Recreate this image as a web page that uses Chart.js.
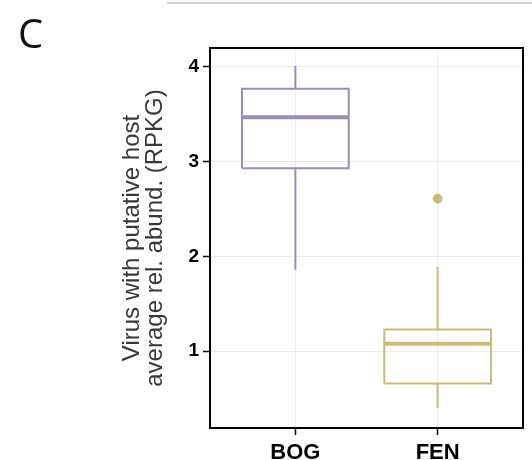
<!DOCTYPE html>
<html>
<head>
<meta charset="utf-8">
<script src="https://cdn.jsdelivr.net/npm/chart.js@4"></script>
<style>
  body { margin: 0; background: #fff; }
  #wrap { position: absolute; left: 0; top: 0; width: 532px; height: 460px; }
  #topRule { position: absolute; left: 167px; top: 2px; width: 365px; height: 0; border-top: 2px solid #d4d4d4; }
  #panelLabel { position: absolute; left: 18px; top: 13px; font-family: "Open Sans", sans-serif; font-size: 40px; line-height: 1; color: #111; }
</style>
</head>
<body>
<div id="wrap"><canvas id="boxChart"></canvas></div>
<div id="topRule"></div>
<div id="panelLabel">C</div>
<script>
// Box plot values (RPKG)
const groups = ["BOG", "FEN"];
const lowerWhisker = [1.86, 0.40];
const q1 = [2.93, 0.66];
const median = [3.47, 1.08];
const q3 = [3.77, 1.23];
const upperWhisker = [4.01, 1.89];
const outliers = [[], [2.61]];
const yTicks = [1, 2, 3, 4];

const colors = ["#9f8cb1", "#cdba76"];
const halfBox = 0.375;

function seg(points, color, width) {
  return {
    type: "line",
    data: points,
    borderColor: color,
    borderWidth: width,
    pointRadius: 0,
    fill: false,
    tension: 0,
  };
}

const datasets = [];
groups.forEach((g, i) => {
  const x = i + 1;
  const c = colors[i];
  // whiskers
  datasets.push(seg([{ x: x, y: q3[i] }, { x: x, y: upperWhisker[i] }], c, 2));
  datasets.push(seg([{ x: x, y: q1[i] }, { x: x, y: lowerWhisker[i] }], c, 2));
  // box
  datasets.push(seg([
    { x: x - halfBox, y: q1[i] },
    { x: x + halfBox, y: q1[i] },
    { x: x + halfBox, y: q3[i] },
    { x: x - halfBox, y: q3[i] },
    { x: x - halfBox, y: q1[i] },
  ], c, 2));
  // median
  datasets.push(seg([{ x: x - halfBox, y: median[i] }, { x: x + halfBox, y: median[i] }], c, 4));
  // outliers
  if (outliers[i].length) {
    datasets.push({
      type: "scatter",
      data: outliers[i].map((v) => ({ x: x, y: v })),
      backgroundColor: c,
      borderColor: c,
      pointRadius: 4.5,
      showLine: false,
    });
  }
});

const panelBorder = {
  id: "panelBorder",
  afterDraw(chart) {
    const { ctx, chartArea: a } = chart;
    ctx.save();
    ctx.strokeStyle = "#000";
    ctx.lineWidth = 2;
    ctx.strokeRect(a.left, a.top, a.right - a.left, a.bottom - a.top);
    ctx.restore();
  },
};

new Chart(document.getElementById("boxChart"), {
  type: "line",
  data: { datasets },
  options: {
    responsive: true,
    maintainAspectRatio: false,
    animation: false,
    events: [],
    layout: { padding: { left: 121, right: 9, top: 48, bottom: 0 } },
    plugins: { legend: { display: false }, tooltip: { enabled: false } },
    scales: {
      x: {
        type: "linear",
        min: 0.4,
        max: 2.6,
        afterBuildTicks: (s) => { s.ticks = groups.map((g, i) => ({ value: i + 1 })); },
        afterFit: (s) => { s.height = 32; },
        ticks: {
          callback: (v) => groups[v - 1],
          color: "#000",
          font: { family: "Liberation Sans", size: 22, weight: "bold" },
          padding: 5,
          maxRotation: 0,
        },
        grid: { color: "#ececec", lineWidth: 1, tickColor: "#000", tickLength: 7, tickWidth: 1.5 },
        border: { display: false },
      },
      y: {
        min: 0.19,
        max: 4.2,
        afterBuildTicks: (s) => { s.ticks = yTicks.map((v) => ({ value: v })); },
        afterFit: (s) => { s.width = 89; },
        ticks: {
          color: "#000",
          font: { family: "Liberation Sans", size: 19, weight: "bold" },
          padding: 4,
        },
        grid: { color: "#ececec", lineWidth: 1, tickColor: "#000", tickLength: 7, tickWidth: 1.5 },
        border: { display: false },
        title: {
          display: true,
          text: ["Virus with putative host", "average rel. abund. (RPKG)"],
          color: "#383838",
          font: { family: "Liberation Sans", size: 24, lineHeight: 0.96 },
          padding: { top: 0, bottom: 0 },
        },
      },
    },
  },
  plugins: [panelBorder],
});
</script>
</body>
</html>
